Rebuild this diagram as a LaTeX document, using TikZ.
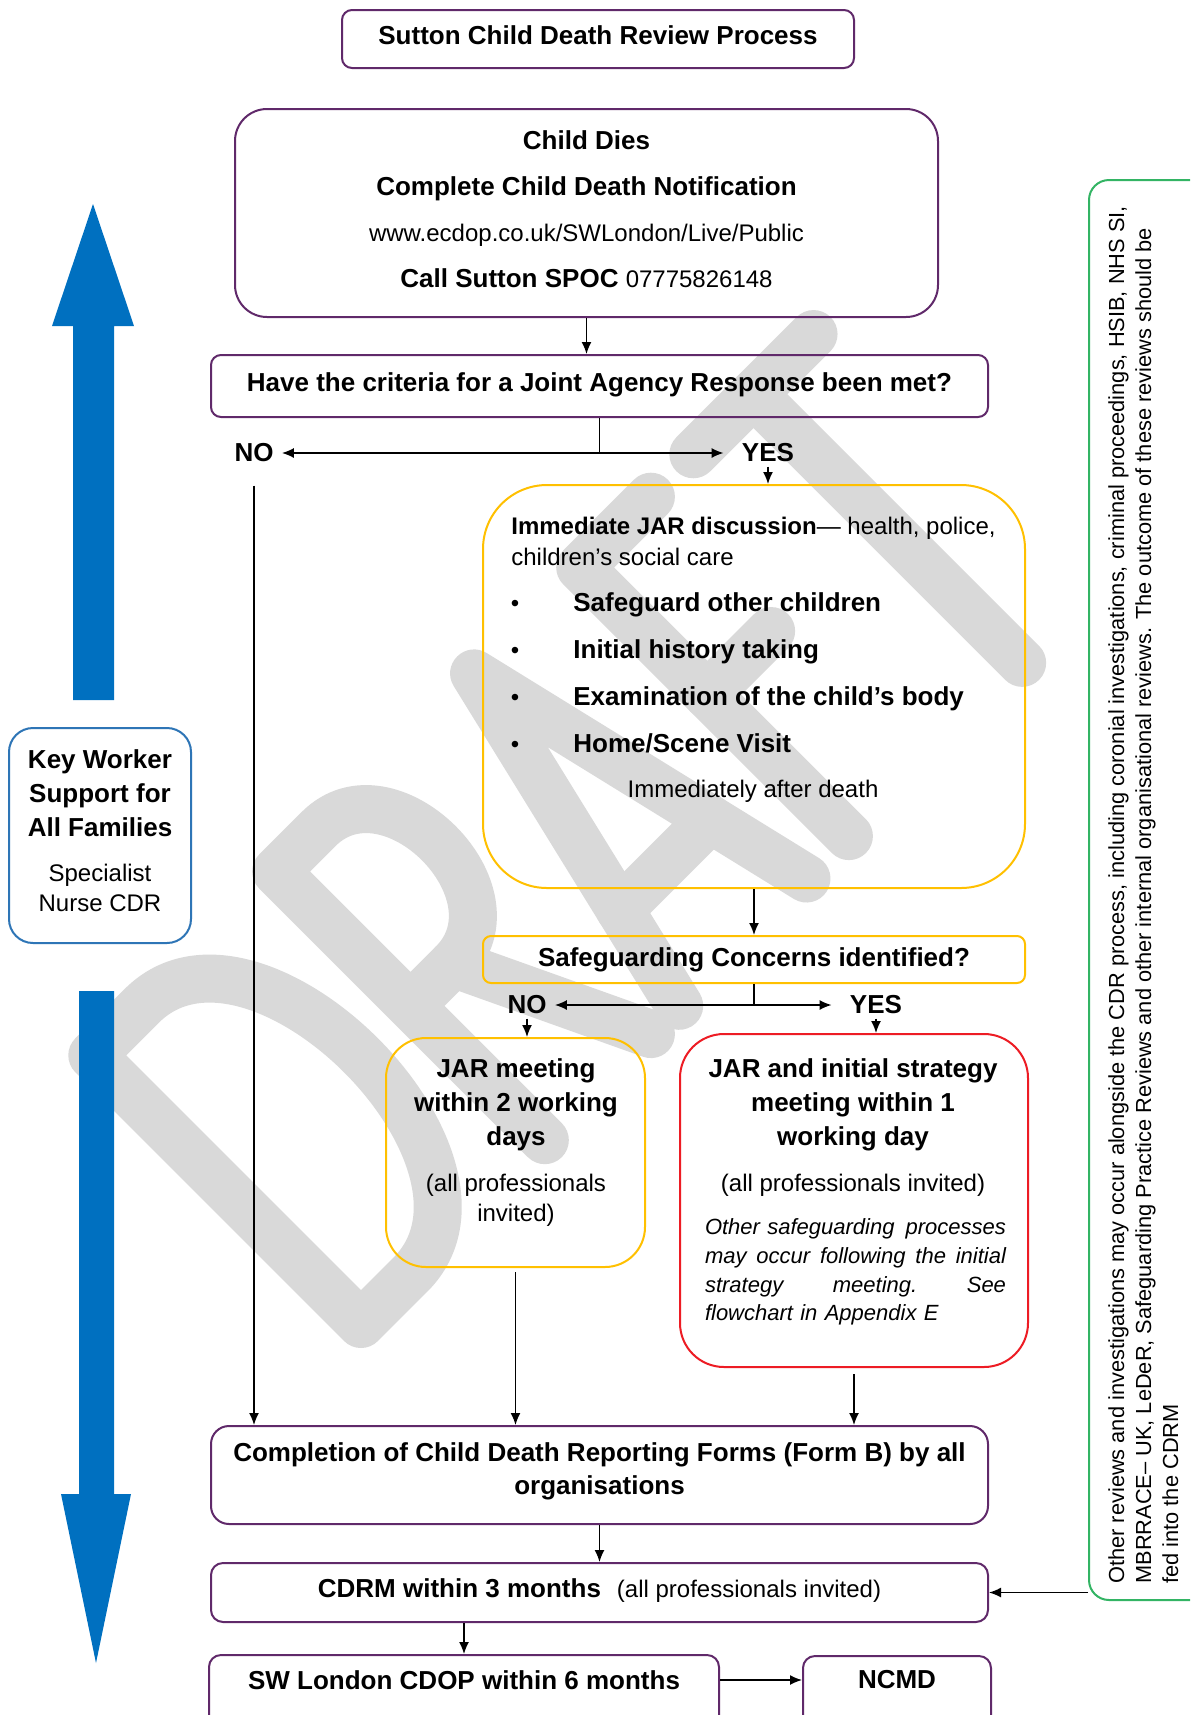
\documentclass[tikz,border=0pt]{standalone}
\usepackage{fontspec}
\setmainfont{Liberation Sans}
\usetikzlibrary{arrows.meta}

\definecolor{boxpurple}{RGB}{96,41,106}
\definecolor{jaryellow}{RGB}{255,192,0}
\definecolor{alertred}{RGB}{237,28,36}
\definecolor{keyblue}{RGB}{46,117,182}
\definecolor{arrowblue}{RGB}{0,112,192}
\definecolor{reviewgreen}{RGB}{51,180,100}
\definecolor{draftgrey}{RGB}{217,217,217}

\newcommand{\hdbf}{\fontsize{13}{17}\selectfont\bfseries}
\newcommand{\hdrg}{\fontsize{12}{15}\selectfont}
\newcommand{\hdit}{\fontsize{11}{14.35}\selectfont\itshape}

\begin{document}
\begin{tikzpicture}[x=0.5pt, y=-0.5pt,
    >={Latex[length=6pt,width=5pt]},
    card/.style={draw=boxpurple, line width=1pt, rounded corners=5pt, inner sep=0pt, font=\hdbf, align=center},
    ambercard/.style={card, draw=jaryellow},
    redcard/.style={card, draw=alertred},
    keycard/.style={card, draw=keyblue, rounded corners=12pt},
    oneline/.style={text height=9.5pt, text depth=4.5pt},
    lab/.style={font=\hdbf, inner xsep=4pt, inner ysep=2pt},
    txt/.style={inner sep=0pt},
    flow/.style={->, line width=0.75pt}]
  \useasboundingbox (0,0) rectangle (1190,1715);
  \fill[white] (0,0) rectangle (1190,1715);
  \clip (0,0) rectangle (1190,1715);

  % DRAFT watermark
  \begin{scope}[shift={(361,1324)}, rotate=45, yscale=-1, draw=draftgrey, line width=24pt, line cap=round, line join=round]
    \draw (0,0) -- (0,380) -- (70,380) .. controls (230,380) and (230,0) .. (70,0) -- cycle;
    \draw (260,0) -- (260,380) -- (320,380) .. controls (420,380) and (420,190) .. (320,190) -- (260,190);
    \draw (320,190) -- (410,0);
    \draw (450,0) -- (540,380) -- (630,0);
    \draw (476,110) -- (604,110);
    \draw (690,0) -- (690,380) -- (790,380);
    \draw (690,200) -- (780,200);
    \draw (850,380) -- (1020,380);
    \draw (935,380) -- (935,0);
  \end{scope}

  % big blue arrows
  \fill[arrowblue] (73,700) -- (73,326) -- (52,326) -- (93,204) -- (134,326) -- (114,326) -- (114,700) -- cycle;
  \fill[arrowblue] (79,991) -- (79,1494) -- (61,1494) -- (96,1663) -- (131,1494) -- (114,1494) -- (114,991) -- cycle;

  % key worker
  \node[keycard, minimum width=91pt, minimum height=107.5pt] (key) at (100,835.5) {};
  \node[font=\hdbf, align=center] (keyhd) at (100,793) {Key Worker\\Support for\\All Families};
  \node[font=\hdrg, align=center] (keysub) at (100,888) {Specialist\\Nurse CDR};

  % main column
  \node[card, oneline, minimum width=256pt, minimum height=29pt] (title) at (598,39) {Sutton Child Death Review Process};
  \node[card, rounded corners=16pt, minimum width=351.5pt, minimum height=104pt] (child) at (586.5,213) {};
  \node[font=\fontsize{13}{23}\selectfont\bfseries, align=center] (childtxt) at (586.5,209)
       {Child Dies\\Complete Child Death Notification\\
        {\mdseries\fontsize{12}{23}\selectfont www.ecdop.co.uk/SWLondon/Live/Public}\\
        Call Sutton SPOC {\mdseries\fontsize{12}{23}\selectfont 07775826148}};
  \node[card, oneline, minimum width=388.5pt, minimum height=31pt] (jaq) at (599.5,386) {Have the criteria for a Joint Agency Response been met?};

  \node[lab] (no) at (254,453) {NO};
  \node[lab, inner xsep=9pt] (yes) at (768,453) {YES};

  % immediate JAR discussion
  \node[ambercard, rounded corners=32pt, minimum width=271pt, minimum height=201.5pt] (jar) at (754,686.5) {};
  \node[txt, anchor=base west, font=\hdrg] (jarhd) at (511,534) {\textbf{Immediate JAR discussion}— health, police,};
  \node[txt, anchor=base west, font=\hdrg] (jarsub) at (511,565) {children’s social care};
  \foreach \i/\y/\t in {1/611/Safeguard other children, 2/658/Initial history taking,
                        3/705/Examination of the child’s body, 4/752/{Home/Scene Visit}} {
    \node[txt, anchor=base, font=\hdrg] (dot\i) at (515,\y) {\textbullet};
    \node[txt, anchor=base west, font=\hdbf] (item\i) at (573,\y) {\t};
  }
  \node[txt, anchor=base, font=\hdrg] (jarnote) at (753,797) {Immediately after death};

  \node[ambercard, rounded corners=4pt, minimum width=271pt, minimum height=23.5pt] (safe) at (754,959.5) {Safeguarding Concerns identified?};
  \node[lab] (no2) at (527,1005) {NO};
  \node[lab, inner xsep=9pt] (yes2) at (876,1005) {YES};

  % JAR meeting
  \node[ambercard, rounded corners=20pt, minimum width=129.5pt, minimum height=114.5pt] (meet) at (515.5,1152.5) {};
  \node[font=\hdbf, align=center] (meethd) at (516,1105) {JAR meeting\\within 2 working\\days};
  \node[font=\hdrg, align=center] (meetsub) at (516,1200) {(all professionals\\invited)};

  % strategy meeting
  \node[redcard, rounded corners=22pt, minimum width=174pt, minimum height=166.5pt] (red) at (854,1200.5) {};
  \node[font=\hdbf, align=center] (redhd) at (853,1105) {JAR and initial strategy\\meeting within 1\\working day};
  \node[font=\hdrg] (redsub) at (853,1185) {(all professionals invited)};
  \node[font=\hdit, align=left, text width=150.5pt] (rednote) at (855.5,1272)
       {\makebox[150.5pt][l]{Other safeguarding\hfill processes}\\
        \makebox[150.5pt][l]{may\hfill occur\hfill following\hfill the\hfill initial}\\
        \makebox[150.5pt][l]{strategy\hfill meeting.\hfill See}\\
        flowchart in Appendix E};

  % bottom boxes
  \node[card, rounded corners=9pt, minimum width=388.5pt, minimum height=49pt] (comp) at (599.5,1475) {};
  \node[font=\fontsize{13}{16.5}\selectfont\bfseries, align=center] (comptxt) at (599.5,1471)
       {Completion of Child Death Reporting Forms (Form B) by all\\organisations};
  \node[card, oneline, rounded corners=6pt, minimum width=388.5pt, minimum height=29.5pt] (cdrm) at (599.5,1592.5)
       {CDRM within 3 months\hspace{8pt}{\mdseries\hdrg(all professionals invited)}};
  \node[card, rounded corners=6pt, minimum width=255pt, minimum height=37.5pt] (sw) at (464,1692.5) {};
  \node[font=\hdbf] (swtxt) at (464,1680) {SW London CDOP within 6 months};
  \node[card, rounded corners=6pt, minimum width=94pt, minimum height=37pt] (ncmd) at (897,1693) {};
  \node[font=\hdbf] (ncmdtxt) at (897,1680) {NCMD};

  % other reviews
  \node[draw=reviewgreen, line width=1pt, rounded corners=10pt, inner sep=0pt,
        minimum width=63pt, minimum height=710pt] (green) at (1152,890) {};
  \node[rotate=90, anchor=north west, inner sep=0pt, align=left,
        font=\fontsize{10.9}{13.5}\selectfont] (greentxt) at (1108,1584)
       {Other reviews and investigations may occur alongside the CDR process, including coronial investigations, criminal proceedings, HSIB, NHS SI,\\
        MBRRACE– UK, LeDeR, Safeguarding Practice Reviews and other internal organisational reviews. The outcome of these reviews should be\\
        fed into the CDRM};

  % connectors
  \draw[flow] (child.south) -- (child.south |- jaq.north);
  \draw[flow] (jaq.south) |- (no.east);
  \draw[flow] (jaq.south) |- (yes.west);
  \draw[flow] (yes.south) -- (yes.south |- jar.north);
  \draw[flow, shorten <=9.5pt] (no.south) -- (no.south |- comp.north);
  \draw[flow] (jar.south) -- (safe.north);
  \draw[flow] (safe.south) |- (no2.east);
  \draw[flow] (safe.south) |- (yes2.west);
  \draw[flow] (no2.south) -- (no2.south |- meet.north);
  \draw[flow] (yes2.south) -- (yes2.south |- red.north);
  \draw[flow, shorten <=2pt] (meet.south) -- (meet.south |- comp.north);
  \draw[flow, shorten <=3pt] (red.south) -- (red.south |- comp.north);
  \draw[flow] (comp.south) -- (cdrm.north);
  \draw[flow] (sw.north |- cdrm.south) -- (sw.north);
  \draw[flow] (swtxt.east -| sw.east) -- (swtxt.east -| ncmd.west);
  \draw[flow] (green.west |- cdrm.east) -- (cdrm.east);
\end{tikzpicture}
\end{document}
